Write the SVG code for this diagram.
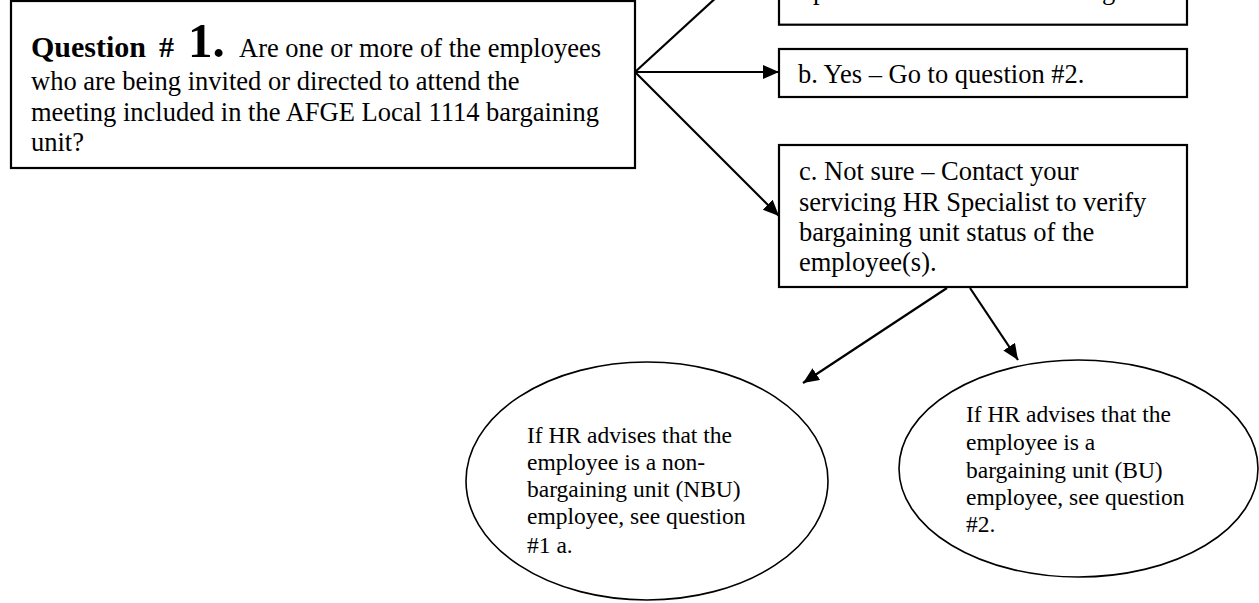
<svg xmlns="http://www.w3.org/2000/svg" width="1259" height="603" viewBox="0 0 1259 603">
<style>
  .box { fill: #fff; stroke: #000; stroke-width: 2.2; }
  .ell { fill: #fff; stroke: #000; stroke-width: 1.6; }
  .t { font-family: "Liberation Serif", "Times New Roman", serif; font-size: 26.5px; fill: #000; }
  .te { font-family: "Liberation Serif", "Times New Roman", serif; font-size: 23.5px; fill: #000; }
  .qb { font-family: "Liberation Serif", "Times New Roman", serif; font-weight: bold; fill: #000; }
  .conn line { stroke: #000; stroke-width: 2.2; marker-end: url(#arr); }
</style>
<defs>
  <marker id="arr" markerUnits="userSpaceOnUse" markerWidth="17" markerHeight="15" refX="16" refY="7" orient="auto">
    <path d="M0,0 L16,7 L0,14 z" fill="#000"/>
  </marker>
</defs>
<rect width="1259" height="603" fill="#fff"/>

<g id="q1">
  <rect class="box" x="11" y="1" width="624" height="167"/>
  <text x="31" y="57"><tspan class="qb" font-size="30">Question</tspan><tspan class="qb" font-size="30" x="159">#</tspan><tspan class="qb" font-size="49" x="188">1.</tspan><tspan class="t" x="239">Are one or more of the employees</tspan></text>
  <text class="t" x="31" y="90">who are being invited or directed to attend the</text>
  <text class="t" x="31" y="120.5">meeting included in the AFGE Local 1114 bargaining</text>
  <text class="t" x="31" y="151">unit?</text>
</g>

<g id="answer-a">
  <rect class="box" x="779" y="-80" width="408" height="104.7"/>
  <text class="t" y="-1.5"><tspan x="813">p</tspan><tspan x="1102">g</tspan></text>
</g>

<g id="answer-b">
  <rect class="box" x="779" y="49" width="408" height="48"/>
  <text class="t" x="798" y="83">b. Yes – Go to question #2.</text>
</g>

<g id="answer-c">
  <rect class="box" x="779" y="145" width="408" height="142"/>
  <text class="t" x="799" y="180">c. Not sure – Contact your</text>
  <text class="t" x="799" y="210.5">servicing HR Specialist to verify</text>
  <text class="t" x="799" y="241">bargaining unit status of the</text>
  <text class="t" x="799" y="271">employee(s).</text>
</g>

<g id="nbu">
  <ellipse class="ell" cx="647" cy="481" rx="181" ry="119"/>
  <text class="te" x="527" y="443">If HR advises that the</text>
  <text class="te" x="527" y="470">employee is a non-</text>
  <text class="te" x="527" y="497">bargaining unit (NBU)</text>
  <text class="te" x="527" y="524">employee, see question</text>
  <text class="te" x="527" y="553">#1 a.</text>
</g>

<g id="bu">
  <ellipse class="ell" cx="1078.5" cy="468.5" rx="179.5" ry="108.5"/>
  <text class="te" x="966" y="422">If HR advises that the</text>
  <text class="te" x="966" y="450">employee is a</text>
  <text class="te" x="966" y="477.5">bargaining unit (BU)</text>
  <text class="te" x="966" y="505">employee, see question</text>
  <text class="te" x="966" y="532">#2.</text>
</g>

<g id="connectors" class="conn">
  <line x1="635" y1="72" x2="779" y2="-60"/>
  <line x1="635" y1="72" x2="779" y2="72"/>
  <line x1="635" y1="72" x2="779" y2="216"/>
  <line x1="947" y1="288" x2="803" y2="383"/>
  <line x1="970" y1="288" x2="1018" y2="360"/>
</g>
</svg>
